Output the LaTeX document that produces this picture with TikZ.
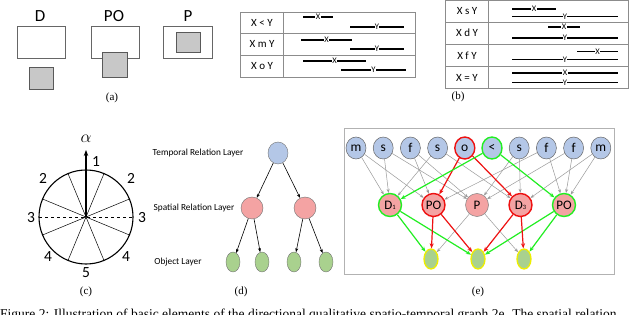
\documentclass[tikz,border=0pt]{standalone}
\usepackage{fontspec}
\setmainfont{Liberation Serif}
\newfontfamily\carl{Carlito}
\usetikzlibrary{shapes.geometric,arrows.meta}
\definecolor{tblue}{HTML}{B4C7E7}
\definecolor{spink}{HTML}{F4A3A3}
\definecolor{ogreen}{HTML}{A9D18E}
\definecolor{gline}{HTML}{9A9A9A}
\definecolor{bgreen}{HTML}{22EE22}
\definecolor{bred}{HTML}{EE1111}
\definecolor{byel}{HTML}{EEEE00}
\definecolor{sqgray}{HTML}{C8C8C8}
\newcommand\ivl[4]{\draw[barl] (#1,#3) -- node[barlab]{#4} (#2,#3);}
\begin{document}
\begin{tikzpicture}[x=1pt,y=-1pt,
  sublab/.style={font=\fontsize{11}{11}\selectfont, inner sep=0},
  biglab/.style={font=\carl\fontsize{17}{17}\selectfont, inner sep=0},
  boxa/.style={draw=black!60, line width=0.7pt, fill=white},
  sqa/.style={draw=black!65, line width=0.7pt, fill=sqgray},
  tbl/.style={draw=black!45, line width=0.6pt},
  rowlab/.style={font=\carl\fontsize{11}{11}\selectfont, inner sep=0},
  barl/.style={line width=1.8pt, black},
  barlab/.style={fill=white, inner sep=0.4pt, font=\carl\fontsize{8.5}{8.5}\selectfont},
  numlab/.style={font=\carl\fontsize{15.5}{15.5}\selectfont, inner sep=0},
  layerlab/.style={font=\carl\fontsize{9.3}{9.3}\selectfont, inner sep=0},
  dt/.style={ellipse, draw=black!55, fill=tblue, minimum width=20pt, minimum height=22pt, inner sep=0},
  ds/.style={ellipse, draw=black!55, fill=spink, minimum width=22pt, minimum height=22pt, inner sep=0},
  dob/.style={ellipse, draw=black!55, fill=ogreen, minimum width=14pt, minimum height=20pt, inner sep=0},
  darr/.style={-{Stealth[length=4pt,width=3pt]}, line width=0.6pt, black},
  tn/.style={ellipse, draw=black!60, line width=0.5pt, fill=tblue, minimum width=20pt, minimum height=22pt, inner sep=0, font=\carl\fontsize{13.5}{13.5}\selectfont},
  sn/.style={ellipse, draw=black!50, line width=0.5pt, fill=spink, minimum width=23pt, minimum height=23pt, inner sep=0, font=\carl\fontsize{13}{13}\selectfont},
  bn/.style={ellipse, draw=byel, line width=1.3pt, fill=ogreen, minimum width=14pt, minimum height=20pt, inner sep=0},
  redo/.style={draw=bred, line width=1.4pt},
  grno/.style={draw=bgreen, line width=1.4pt},
  garr/.style={-{Stealth[length=4pt,width=3pt]}, line width=0.5pt, gline},
  rarr/.style={-{Stealth[length=5pt,width=4pt]}, line width=1.2pt, bred},
  garr2/.style={-{Stealth[length=5pt,width=4pt]}, line width=1.2pt, bgreen}
]
\useasboundingbox (0,0) rectangle (640,315);
\clip (0,0) rectangle (640,315);
\fill[white] (0,0) rectangle (640,315);

% ---------- (a)
\node[biglab] (la1) at (40,16) {D};
\node[biglab] (la2) at (114,16) {PO};
\node[biglab] (la3) at (188,16) {P};
\draw[boxa] (17,26) rectangle (65,58);
\draw[sqa] (29,67) rectangle (53,89);
\draw[boxa] (91,26) rectangle (139,58);
\draw[sqa] (102,52) rectangle (127,77);
\draw[boxa] (163,26) rectangle (212,58);
\draw[sqa] (176,32) rectangle (200,52);
\node[sublab] (capa) at (112,98) {(a)};

% ---------- (b) left table
\draw[tbl] (240,12) rectangle (415,77);
\draw[tbl] (283,12) -- (283,77);
\draw[tbl] (240,33.5) -- (415,33.5);
\draw[tbl] (240,55) -- (415,55);
\node[rowlab] (r1) at (262,23) {X < Y};
\node[rowlab] (r2) at (262,44) {X m Y};
\node[rowlab] (r3) at (262,66) {X o Y};
\ivl{303}{333}{17}{X}
\ivl{350}{404}{27}{Y}
\ivl{301}{352}{40}{X}
\ivl{350}{404}{49}{Y}
\ivl{303}{366}{61}{X}
\ivl{341}{406}{70}{Y}
% right table
\draw[tbl] (445,0.6) rectangle (628,88);
\draw[tbl] (488,0.6) -- (488,88);
\draw[tbl] (445,22.7) -- (628,22.7);
\draw[tbl] (445,44.3) -- (628,44.3);
\draw[tbl] (445,66.7) -- (628,66.7);
\node[rowlab] (r4) at (467,11) {X s Y};
\node[rowlab] (r5) at (467,33) {X d Y};
\node[rowlab] (r6) at (467,56) {X f Y};
\node[rowlab] (r7) at (467,78) {X = Y};
\ivl{512}{556}{9}{X}
\ivl{512}{618}{16.5}{Y}
\ivl{548}{580}{27}{X}
\ivl{512}{618}{38}{Y}
\ivl{577}{618}{51.5}{X}
\ivl{512}{618}{59.5}{Y}
\ivl{512}{618}{73}{X}
\ivl{512}{618}{82.5}{Y}
\node[sublab] (capb) at (458,97) {(b)};

% ---------- (c)
\coordinate (O) at (86,217);
\draw[line width=1.1pt] (O) circle[radius=47pt];
\foreach \a in {22.5,67.5,112.5,157.5}{
  \draw[line width=0.5pt] (O) ++(\a:47pt) -- ++(\a+180:94pt);
}
\draw[dashed, line width=0.8pt] (39,217) -- (133,217);
\draw[-{Stealth[length=6pt,width=4.5pt]}, line width=1.3pt] (O) -- (86,150);
\node[inner sep=0, font=\fontsize{18}{18}\selectfont] (alpha) at (86,139) {$\alpha$};
\node[numlab] (n1) at (96,162) {1};
\node[numlab] (n2l) at (43,178) {2};
\node[numlab] (n2r) at (131,178) {2};
\node[numlab] (n3l) at (31,218) {3};
\node[numlab] (n3r) at (142,218) {3};
\node[numlab] (n4l) at (48,257) {4};
\node[numlab] (n4r) at (126,257) {4};
\node[numlab] (n5) at (86,273) {5};
\node[sublab] (capc) at (86,292) {(c)};

% ---------- (d)
\node[layerlab] (l1) at (198,153) {Temporal Relation Layer};
\node[layerlab] (l2) at (194,208) {Spatial Relation Layer};
\node[layerlab] (l3) at (178,262) {Object Layer};
\node[dt] (d0) at (278,153) {};
\node[ds] (d1) at (252,208) {};
\node[ds] (d2) at (305,208) {};
\node[dob] (e1) at (233,262) {};
\node[dob] (e2) at (262,262) {};
\node[dob] (e3) at (294,262) {};
\node[dob] (e4) at (326,262) {};
\draw[darr] (d0) -- (d1);
\draw[darr] (d0) -- (d2);
\draw[darr] (d1) -- (e1);
\draw[darr] (d1) -- (e2);
\draw[darr] (d2) -- (e3);
\draw[darr] (d2) -- (e4);
\node[sublab] (capd) at (241,292) {(d)};

% ---------- (e)
\draw[draw=black!30, line width=0.8pt] (344,128) rectangle (614,274);
\node[tn] (t1) at (356,148) {m};
\node[tn] (t2) at (383.2,148) {s};
\node[tn] (t3) at (410.4,148) {f};
\node[tn] (t4) at (437.6,148) {s};
\node[tn, redo] (t5) at (464.8,148) {o};
\node[tn, grno] (t6) at (492,148) {<};
\node[tn] (t7) at (519.2,148) {s};
\node[tn] (t8) at (546.4,148) {f};
\node[tn] (t9) at (573.6,148) {f};
\node[tn] (t10) at (600.8,148) {m};
\node[sn, grno] (s1) at (390,205) {D{\fontsize{6.5}{6.5}\selectfont 1}};
\node[sn, redo] (s2) at (433.5,205) {PO};
\node[sn] (s3) at (477,205) {P};
\node[sn, redo] (s4) at (520.5,205) {D{\fontsize{6.5}{6.5}\selectfont 3}};
\node[sn, grno] (s5) at (564,205) {PO};
\node[bn] (b1) at (431,259) {};
\node[bn] (b2) at (478,259) {};
\node[bn] (b3) at (524,259) {};
% gray edges
\draw[garr] (t1) -- (s1);
\draw[garr] (t1) -- (s2);
\draw[garr] (t2) -- (s1);
\draw[garr] (t2) -- (s3);
\draw[garr] (t3) -- (s2);
\draw[garr] (t3) -- (s3);
\draw[garr] (t4) -- (s1);
\draw[garr] (t4) -- (s4);
\draw[garr] (t7) -- (s4);
\draw[garr] (t7) -- (s3);
\draw[garr] (t8) -- (s5);
\draw[garr] (t8) -- (s2);
\draw[garr] (t9) -- (s5);
\draw[garr] (t9) -- (s3);
\draw[garr] (t10) -- (s5);
\draw[garr] (t10) -- (s4);
\draw[garr] (s3) -- (b1);
\draw[garr] (s3) -- (b3);
% coloured edges
\draw[rarr] (t5) -- (s2);
\draw[rarr] (t5) -- (s4);
\draw[garr2] (t6) -- (s1);
\draw[garr2] (t6) -- (s5);
\draw[garr2] (s1) -- (b1);
\draw[garr2] (s1) -- (b2);
\draw[garr2] (s5) -- (b2);
\draw[garr2] (s5) -- (b3);
\draw[rarr] (s2) -- (b1);
\draw[rarr] (s2) -- (b2);
\draw[rarr] (s4) -- (b2);
\draw[rarr] (s4) -- (b3);
\node[sublab] (cape) at (478,292) {(e)};

% ---------- caption (cut off at bottom, as in the reference)
\node[anchor=base west, inner sep=0, font=\fontsize{13.5}{13.5}\selectfont] (cap) at (0,318) {Figure 2: Illustration of basic elements of the directional qualitative spatio-temporal graph 2e. The spatial relation};
\end{tikzpicture}
\end{document}
